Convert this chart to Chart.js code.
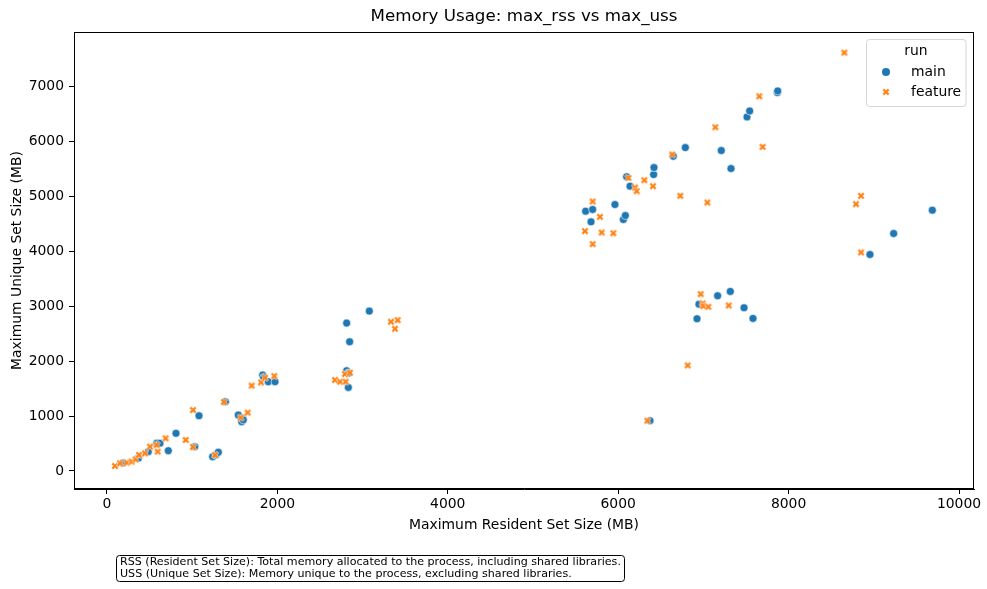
<!DOCTYPE html>
<html>
<head>
<meta charset="utf-8">
<script src="https://cdn.jsdelivr.net/npm/chart.js@4.4.1/dist/chart.umd.min.js"></script>
<style>
  html,body{margin:0;padding:0;background:#fff;}
  #wrap{width:987px;height:589px;position:relative;}
</style>
</head>
<body>
<div id="wrap"><canvas id="c" width="987" height="589"></canvas></div>
<script>
// values (MB)
var mainX = [188,368,485,583,622,720,810,1080,1030,1240,1280,1307,1390,1541,1581,1593,1600,1827,1840,1893,1972,
  2813,2830,2833,2813,2848,3079,
  5618,5681,5700,5962,6061,6084,6099,6139,6416,6420,6647,6788,7210,7324,7512,7543,7868,7872,
  6925,6948,7167,7316,7477,7582,6373,
  8955,9233,9687];
var mainY = [145,230,351,503,503,369,685,1005,440,260,290,340,1260,1018,897,958,930,1745,1700,1624,1624,
  1824,1780,1521,2691,2352,2909,
  4727,4533,4758,4848,4576,4648,5352,5182,5394,5521,5727,5885,5830,5503,6442,6551,6885,6915,
  2770,3036,3188,3267,2970,2776,915,
  3939,4321,4745];
var featureX = [94,153,231,290,337,376,446,505,583,595,688,924,1010,1010,1268,1373,1569,1651,1698,1808,1854,1964,
  2676,2735,2801,2793,2852,3333,3412,3380,
  5610,5700,5700,5786,5806,5943,6119,6197,6217,6307,6408,6635,6729,7046,7140,7656,7695,8654,
  6342,6815,6968,6991,6999,7058,7297,
  8791,8850,8850];
var featureY = [91,139,151,170,212,291,321,442,473,351,594,564,1109,436,291,1255,970,1061,1552,1612,1697,1727,
  1655,1624,1624,1764,1788,2715,2745,2588,
  4364,4903,4127,4624,4339,4327,5333,5158,5091,5291,5182,5758,5006,4885,6255,6818,5897,7612,
  915,1921,3218,3048,3000,2988,3012,
  4855,5006,3976];
var runs = ['main','feature'];
var xTicks = [0,2000,4000,6000,8000,10000];
var yTicks = [0,1000,2000,3000,4000,5000,6000,7000];

var BLUE='#1f77b4', ORANGE='#ff7f0e', FONT='"DejaVu Sans", sans-serif';

function pts(xs,ys){ return xs.map(function(x,i){ return {x:x,y:ys[i]}; }); }

// filled X marker like seaborn's, white edge
function xMarker(color){
  var s=12, c=document.createElement('canvas'); c.width=c.height=s;
  var g=c.getContext('2d'), a=3.9, w=1.25;
  g.translate(s/2,s/2); g.rotate(Math.PI/4);
  var p=[[-w,-a],[w,-a],[w,-w],[a,-w],[a,w],[w,w],[w,a],[-w,a],[-w,w],[-a,w],[-a,-w],[-w,-w]];
  g.beginPath(); p.forEach(function(q,i){ i?g.lineTo(q[0],q[1]):g.moveTo(q[0],q[1]); }); g.closePath();
  g.fillStyle=color; g.fill(); g.strokeStyle='#fff'; g.lineWidth=0.6; g.stroke();
  return c;
}
var xImg = xMarker(ORANGE);

var frame = {
  id:'frame',
  afterDraw:function(chart){
    var ctx=chart.ctx, a=chart.chartArea;
    ctx.save();
    ctx.strokeStyle='#000'; ctx.lineWidth=1;
    ctx.strokeRect(a.left+0.5,a.top+0.5,a.right-a.left-1,a.bottom-a.top-1);
    // title
    ctx.fillStyle='#000'; ctx.textAlign='center'; ctx.textBaseline='middle';
    ctx.font='16.7px '+FONT;
    ctx.fillText('Memory Usage: max_rss vs max_uss',(a.left+a.right)/2,17);
    // legend
    var lx=866.5, ly=39.5, lw=99.5, lh=67;
    ctx.beginPath(); ctx.roundRect(lx,ly,lw,lh,3);
    ctx.fillStyle='rgba(255,255,255,0.8)'; ctx.fill();
    ctx.strokeStyle='#d6d6d6'; ctx.stroke();
    ctx.fillStyle='#000'; ctx.font='13.9px '+FONT;
    ctx.fillText('run',916,51);
    ctx.textAlign='left';
    ctx.beginPath(); ctx.arc(886,72,4,0,Math.PI*2); ctx.fillStyle=BLUE; ctx.fill();
    ctx.drawImage(xImg,886-6,92-6);
    ctx.fillStyle='#000';
    ctx.fillText(runs[0],911,72);
    ctx.fillText(runs[1],911,92);
    // note box
    ctx.beginPath(); ctx.roundRect(116.5,555.5,508,26,3);
    ctx.fillStyle='#fff'; ctx.fill(); ctx.strokeStyle='#000'; ctx.stroke();
    ctx.fillStyle='#000'; ctx.font='11.1px '+FONT; ctx.textBaseline='middle';
    ctx.fillText('RSS (Resident Set Size): Total memory allocated to the process, including shared libraries.',120,562.5);
    ctx.fillText('USS (Unique Set Size): Memory unique to the process, excluding shared libraries.',120,574.5);
    ctx.restore();
  }
};

new Chart(document.getElementById('c'),{
  type:'scatter',
  data:{datasets:[
    {label:runs[0],data:pts(mainX,mainY),pointStyle:'circle',radius:4,hoverRadius:4,
      backgroundColor:BLUE,borderColor:'#fff',borderWidth:0.6,order:1},
    {label:runs[1],data:pts(featureX,featureY),pointStyle:xImg,radius:4,hoverRadius:4,
      backgroundColor:ORANGE,borderColor:ORANGE,order:0}
  ]},
  options:{
    responsive:false,animation:false,devicePixelRatio:1,
    layout:{padding:{left:0,right:13,top:32,bottom:50}},
    plugins:{legend:{display:false},tooltip:{enabled:false},title:{display:false}},
    scales:{
      x:{type:'linear',min:-387,max:10176,
        afterBuildTicks:function(s){ s.ticks=xTicks.map(function(v){return {value:v};}); },
        afterFit:function(s){ s.height=50; s.paddingLeft=0; s.paddingRight=0; },
        grid:{drawOnChartArea:false,drawTicks:true,tickLength:5,color:'#000'},
        border:{display:true,color:'#000'},
        ticks:{color:'#000',font:{family:FONT,size:13.9},padding:2,maxRotation:0,autoSkip:false,
          callback:function(v){return String(v);}},
        title:{display:true,text:'Maximum Resident Set Size (MB)',color:'#000',
          font:{family:FONT,size:13.9},padding:{top:0,bottom:5}}
      },
      y:{type:'linear',min:-328,max:7988,
        afterBuildTicks:function(s){ s.ticks=yTicks.map(function(v){return {value:v};}); },
        afterFit:function(s){ s.width=74; s.paddingTop=0; s.paddingBottom=0; },
        grid:{drawOnChartArea:false,drawTicks:true,tickLength:5,color:'#000'},
        border:{display:true,color:'#000'},
        ticks:{color:'#000',font:{family:FONT,size:13.9},padding:5,autoSkip:false,
          callback:function(v){return String(v);}},
        title:{display:true,text:'Maximum Unique Set Size (MB)',color:'#000',
          font:{family:FONT,size:13.9},padding:{top:9,bottom:0}}
      }
    }
  },
  plugins:[frame]
});
</script>
</body>
</html>
